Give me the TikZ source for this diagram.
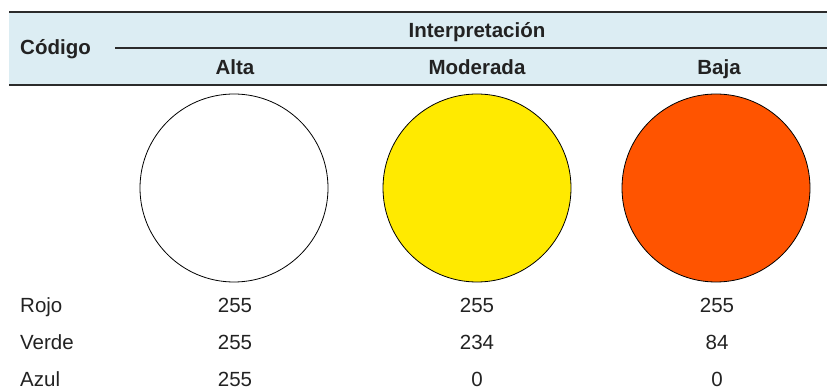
\documentclass[tikz,border=0pt]{standalone}
\usepackage{fontspec}
\setmainfont{Liberation Sans}
\definecolor{hdrbg}{HTML}{DCEDF3}
\definecolor{rulecol}{HTML}{2B2B2B}
\definecolor{txtcol}{HTML}{222222}
\definecolor{yel}{RGB}{255,234,0}
\definecolor{ora}{RGB}{255,84,0}
\begin{document}
\begin{tikzpicture}[x=1pt,y=-1pt,
  hdr/.style={font=\fontsize{20.5}{24}\selectfont\bfseries, text=txtcol, inner sep=0pt, anchor=base},
  cell/.style={font=\fontsize{20.5}{24}\selectfont, text=txtcol, inner sep=0pt, anchor=base},
  disc/.style={circle, draw=black, line width=0.8pt, minimum size=188pt, inner sep=0pt},
  rule/.style={draw=rulecol, line width=1.2pt}]
\useasboundingbox (0,0) rectangle (827,390);
\fill[hdrbg] (9,12) rectangle (827,85);
\coordinate (tl) at (9,12);
\coordinate (tr) at (827,12);
\coordinate (ml) at (115,48);
\coordinate (mr) at (827,48);
\coordinate (bl) at (9,85);
\coordinate (br) at (827,85);
\draw[rule, line width=2pt] (tl) -- (tr);
\draw[rule] (ml) -- (mr);
\draw[rule] (bl) -- (br);
\node[hdr, anchor=base west] (codigo) at (20,55) {Código};
\node[hdr] (interp) at (477,38) {Interpretación};
\node[hdr] (alta) at (235,75) {Alta};
\node[hdr] (mod) at (477,75) {Moderada};
\node[hdr] (baja) at (719,75) {Baja};
\node[disc, fill=white] (c1) at (234,188) {};
\node[disc, fill=yel] (c2) at (477,188) {};
\node[disc, fill=ora] (c3) at (716,188) {};
\node[cell, anchor=base west] (rojo) at (20,312.5) {Rojo};
\node[cell, anchor=base west] (verde) at (20,349.3) {Verde};
\node[cell, anchor=base west] (azul) at (20,386) {Azul};
\node[cell] (r1) at (235,312.5) {255};
\node[cell] (r2) at (477,312.5) {255};
\node[cell] (r3) at (717,312.5) {255};
\node[cell] (v1) at (235,349.3) {255};
\node[cell] (v2) at (477,349.3) {234};
\node[cell] (v3) at (717,349.3) {84};
\node[cell] (a1) at (235,386) {255};
\node[cell] (a2) at (477,386) {0};
\node[cell] (a3) at (717,386) {0};
\end{tikzpicture}
\end{document}
